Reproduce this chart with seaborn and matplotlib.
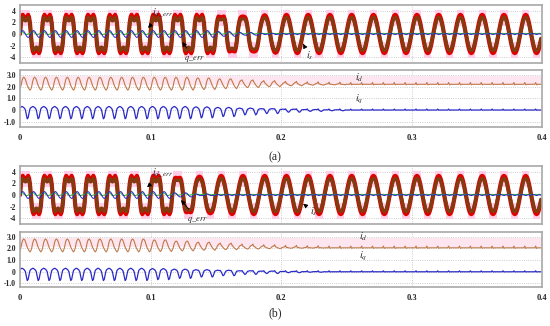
import numpy as np
import pandas as pd
import seaborn as sns
import matplotlib.pyplot as plt

# --- data ----------------------------------------------------------------
# one 60 Hz cycle, 24 samples (15 deg each)
is_dist_half = [0.0, 1.9, 2.9, 3.3, 3.05, 2.7, 2.6, 2.7, 3.05, 3.3, 2.9, 1.9]
is_sine_half = [0.0, 0.85, 1.65, 2.33, 2.86, 3.19, 3.3, 3.19, 2.86, 2.33, 1.65, 0.85]
is_dist_cycle = is_dist_half + [-v for v in is_dist_half]
is_sine_cycle = is_sine_half + [-v for v in is_sine_half]

# error signals (two ripples per cycle)
derr_early_half = [0.0, 0.3, 0.5, 0.6, 0.5, 0.3, 0.0, -0.3, -0.5, -0.6, -0.5, -0.3]
derr_steady_half = [0.0, 0.05, 0.1, 0.05, 0.0, -0.05, -0.1, -0.05, 0.0, 0.05, 0.0, -0.05]
qerr_early_half = [0.15, 0.3, 0.4, 0.35, 0.2, 0.05, -0.05, -0.1, -0.05, 0.0, 0.05, 0.1]
qerr_steady_half = [0.1, 0.12, 0.1, 0.08, 0.1, 0.12, 0.1, 0.08, 0.1, 0.12, 0.1, 0.08]

# dq currents (two ripples per cycle)
id_early_half = [1.8, 2.05, 2.45, 2.7, 2.8, 2.75, 2.6, 2.35, 2.1, 1.95, 1.8, 1.7]
iq_early_half = [0.2, 0.25, 0.3, 0.28, 0.22, 0.15, 0.0, -0.4, -0.75, -0.65, -0.25, 0.1]
id_steady_half_a = [2.2, 2.2, 2.2, 2.2, 2.2, 2.35, 2.15, 2.2, 2.2, 2.2, 2.2, 2.2]
id_steady_half_b = [2.05, 2.05, 2.05, 2.05, 2.05, 2.2, 2.0, 2.05, 2.05, 2.05, 2.05, 2.05]
iq_steady_half = [0.0, 0.0, 0.0, 0.0, 0.0, 0.08, -0.02, 0.0, 0.0, 0.0, 0.0, 0.0]

# distortion level per cycle (1 = start-up shape, 0 = steady state), 24 cycles
top_level_a = [1, 1, 1, 1, 1, 1, 1, 1, 1, 0.7, 0.4, 0.1] + [0] * 12
top_level_b = [1, 1, 1, 1, 1, 1, 1, 0.6, 0.2] + [0] * 15
low_level_a = [1] * 8 + [0.9, 0.75, 0.55, 0.4, 0.25, 0.15, 0.08] + [0] * 9
low_level_b = [1] * 6 + [0.9, 0.75, 0.6, 0.45, 0.3, 0.2, 0.1, 0.05] + [0] * 10

x_ticks = [0, 0.1, 0.2, 0.3, 0.4]
x_labels = ["0", "0.1", "0.2", "0.3", "0.4"]
top_ticks = [4, 2, 0, -2, -4]
top_labels = ["4", "2", "0", "-2", "-4"]
low_ticks = [3.0, 2.0, 1.0, 0, -1.0]
low_labels = ["3.0", "2.0", "1.0", "0", "-1.0"]

n_per_cycle = 24
t = np.arange(len(top_level_a) * n_per_cycle) / (60.0 * n_per_cycle)


def build(early, steady, level):
    early = np.asarray(early, float)
    steady = np.asarray(steady, float)
    return np.concatenate([steady + w * (early - steady) for w in level])


def two(half):
    return half + half


sns.set_style("white")
plt.rcParams['font.family'] = ['Liberation Serif', 'DejaVu Serif']
plt.rcParams['mathtext.fontset'] = 'stix'

fig = plt.figure(figsize=(5.5, 3.26), dpi=100)
W, H = 550.0, 326.0


def add_ax(top_px, bot_px):
    return fig.add_axes([20 / W, 1 - bot_px / H, 522 / W, (bot_px - top_px) / H])


def style(ax, ticks, labels, ylim, xlab):
    ax.set_xlim(0, 0.4)
    ax.set_ylim(*ylim)
    ax.set_yticks(ticks)
    ax.set_yticklabels(labels)
    ax.set_xticks(x_ticks)
    ax.set_xticklabels(x_labels if xlab else [])
    ax.tick_params(length=0, labelsize=5.5, pad=3)
    ax.tick_params(axis='x', labelsize=6, pad=5)
    for lab in ax.get_xticklabels() + ax.get_yticklabels():
        lab.set_fontweight('bold')
    ax.grid(True, color='#bdbdbd', ls=':', lw=0.6)
    for s in ax.spines.values():
        s.set_color('#a8a8a8')
        s.set_linewidth(1.2)
    ax.set_xlabel('')
    ax.set_ylabel('')


def top_panel(ax, level):
    is_red = build(is_dist_cycle, is_sine_cycle, level)
    is_brn = is_red * 0.87
    derr = build(two(derr_early_half), two(derr_steady_half), level)
    qerr = build(two(qerr_early_half), two(qerr_steady_half), level)
    ax.fill_between(t, 1.3, 4.2, where=is_red > 1.2, color='#ffcde8', lw=0)
    ax.fill_between(t, -4.2, -1.3, where=is_red < -1.2, color='#ffcde8', lw=0)
    sns.lineplot(x=t, y=is_red, ax=ax, color='#e00000', linewidth=3.0)
    sns.lineplot(x=t, y=is_brn, ax=ax, color='#823c10', linewidth=2.4)
    sns.lineplot(x=t, y=qerr, ax=ax, color='#2fb02f', linewidth=0.7)
    sns.lineplot(x=t, y=derr, ax=ax, color='#2626c8', linewidth=0.7)
    style(ax, top_ticks, top_labels, (-5, 5), False)


def low_panel(ax, level, id_steady_half, ylim):
    id_ = build(two(id_early_half), two(id_steady_half), level)
    iq_ = build(two(iq_early_half), two(iq_steady_half), level)
    ax.axhspan(2.15, 2.9, color='#fde6ef', lw=0)
    sns.lineplot(x=t, y=id_, ax=ax, color='#c0784a', linewidth=0.8)
    sns.lineplot(x=t, y=iq_, ax=ax, color='#2a2ac8', linewidth=0.9)
    style(ax, low_ticks, low_labels, ylim, True)


arrow = dict(arrowstyle='-|>', color='black', lw=0.7, mutation_scale=6)
fs = 7.5

# (a)
ax1 = add_ax(5, 63)
top_panel(ax1, top_level_a)
ax1.annotate(r'$i_{d\_err}$', xy=(0.0966, 0.7), xytext=(0.101, 3.3), fontsize=fs,
             arrowprops=arrow)
ax1.annotate(r'$q\_err$', xy=(0.123, -1.0), xytext=(0.126, -4.4), fontsize=fs - 1.5,
             arrowprops=arrow)
ax1.annotate(r'$i_s$', xy=(0.217, -1.7), xytext=(0.219, -4.3), fontsize=fs,
             arrowprops=arrow)

ax2 = add_ax(70, 127)
low_panel(ax2, low_level_a, id_steady_half_a, (-1.45, 3.42))
ax2.text(0.257, 2.5, r'$i_d$', fontsize=fs)
ax2.text(0.257, 0.75, r'$i_q$', fontsize=fs)

# (b)
ax3 = add_ax(166, 224)
top_panel(ax3, top_level_b)
ax3.annotate(r'$i_{d\_err}$', xy=(0.0958, 1.0), xytext=(0.101, 3.4), fontsize=fs,
             arrowprops=arrow)
ax3.annotate(r'$q\_err$', xy=(0.122, -0.5), xytext=(0.128, -4.4), fontsize=fs - 1.5,
             arrowprops=arrow)
ax3.annotate(r'$i_s$', xy=(0.217, -1.5), xytext=(0.222, -3.4), fontsize=fs,
             arrowprops=arrow)

ax4 = add_ax(232, 287)
low_panel(ax4, low_level_b, id_steady_half_b, (-1.3, 3.4))
ax4.text(0.26, 2.75, r'$i_d$', fontsize=fs)
ax4.text(0.26, 1.1, r'$i_q$', fontsize=fs)

fig.text(0.5, 1 - 157 / H, '(a)', ha='center', va='center', fontsize=8.5)
fig.text(0.5, 1 - 313 / H, '(b)', ha='center', va='center', fontsize=8.5)

fig.savefig('out.png', dpi=100)
